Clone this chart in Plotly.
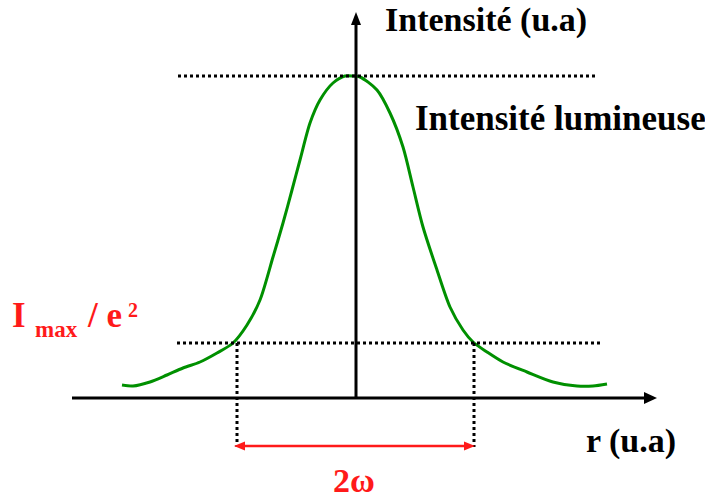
import plotly.graph_objects as go

# ---- data (r in u.a., intensity in u.a.) ----
curve_r = [-234, -223, -206, -189, -173, -156, -139, -123, -109, -96, -83, -73, -64, -56, -46, -36,
           -23, -11, -3, 4, 21, 34, 47, 57, 67, 81, 94, 107, 117, 131, 147, 171, 197, 221, 237, 251]
curve_i = [13, 12, 16, 23, 30, 36, 45, 55, 73, 98, 141, 175, 208, 238, 275, 298,
           315, 322, 322, 321, 308, 285, 251, 211, 171, 128, 91, 68, 56, 46, 36, 26, 16, 12, 12, 14]

i_max = 322          # peak intensity level
i_e2 = 55            # I_max / e^2 level
waist_left = -119    # r where the curve crosses I_max/e^2 (left)
waist_right = 118    # r where the curve crosses I_max/e^2 (right)

labels = {
    "y_title": "Intensité (u.a)",
    "x_title": "r (u.a)",
    "curve": "Intensité lumineuse",
    "width": "2ω",
}

# ---- styling ----
GREEN = "#009000"
RED = "#ff1a1a"
FONT = "Liberation Serif"

fig = go.Figure()

fig.add_trace(go.Scatter(x=curve_r, y=curve_i, mode="lines",
                         line=dict(color=GREEN, width=3, shape="spline", smoothing=0.8),
                         hoverinfo="skip", showlegend=False))

shapes = []
# axes
shapes.append(dict(type="line", x0=-284, y0=0, x1=292, y1=0, line=dict(color="black", width=3)))
shapes.append(dict(type="path", path="M 301 0 L 288 6 L 288 -6 Z", fillcolor="black", line=dict(width=0)))
shapes.append(dict(type="line", x0=0, y0=0, x1=0, y1=376, line=dict(color="black", width=3)))
shapes.append(dict(type="path", path="M 0 386 L -5 373 L 5 373 Z", fillcolor="black", line=dict(width=0)))

# dotted guide lines
dot = dict(color="black", width=3, dash="dot")
shapes.append(dict(type="line", x0=-178, y0=i_max, x1=242, y1=i_max, line=dot))
shapes.append(dict(type="line", x0=-179, y0=i_e2, x1=247, y1=i_e2, line=dot))
shapes.append(dict(type="line", x0=waist_left, y0=i_e2, x1=waist_left, y1=-49, line=dot))
shapes.append(dict(type="line", x0=waist_right, y0=i_e2, x1=waist_right, y1=-49, line=dot))

# red double arrow (2ω)
ya = -48
shapes.append(dict(type="line", x0=waist_left - 3 + 8, y0=ya, x1=waist_right + 1 - 8, y1=ya,
                   line=dict(color=RED, width=2.5)))
shapes.append(dict(type="path",
                   path=f"M {waist_left-3} {ya} L {waist_left-3+11} {ya+4.5} L {waist_left-3+11} {ya-4.5} Z",
                   fillcolor=RED, line=dict(width=0)))
shapes.append(dict(type="path",
                   path=f"M {waist_right+1} {ya} L {waist_right+1-11} {ya+4.5} L {waist_right+1-11} {ya-4.5} Z",
                   fillcolor=RED, line=dict(width=0)))

def txt(x, y, text, size, color="black"):
    return dict(x=x, y=y, xref="x", yref="y", text=text, showarrow=False,
                xanchor="left", yanchor="middle", borderpad=0,
                font=dict(family=FONT, size=size, color=color, weight="bold"))

annotations = [
    txt(28, 378, labels["y_title"], 34),
    txt(58, 280, labels["curve"], 35),
    txt(229, -43, labels["x_title"], 34),
    txt(-24, -82, labels["width"], 34, RED),
    txt(-345, 83, "I", 35, RED),
    txt(-322, 69, "max", 23, RED),
    txt(-270, 83, "/ e", 35, RED),
    txt(-229, 88, "2", 20, RED),
]

fig.update_layout(
    width=705, height=502,
    margin=dict(l=0, r=0, t=0, b=0),
    paper_bgcolor="white", plot_bgcolor="white",
    xaxis=dict(range=[-356, 349], visible=False, fixedrange=True),
    yaxis=dict(range=[-104, 398], visible=False, fixedrange=True),
    shapes=shapes, annotations=annotations,
    showlegend=False,
)

fig.write_html("out.html", config={"displayModeBar": False},
               post_script="document.body.style.margin='0';document.body.style.overflow='hidden';")
